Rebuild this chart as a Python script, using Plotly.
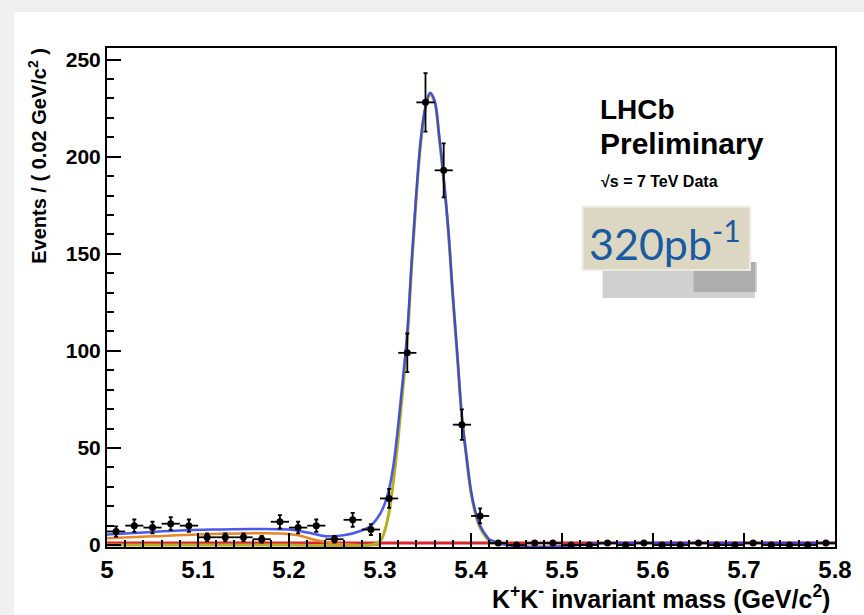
import numpy as np
import plotly.graph_objects as go

# ---- data ----
bin_centers = [5.01, 5.03, 5.05, 5.07, 5.09, 5.11, 5.13, 5.15, 5.17, 5.19,
               5.21, 5.23, 5.25, 5.27, 5.29, 5.31, 5.33, 5.35, 5.37, 5.39,
               5.41, 5.43, 5.45, 5.47, 5.49, 5.51, 5.53, 5.55, 5.57, 5.59,
               5.61, 5.63, 5.65, 5.67, 5.69, 5.71, 5.73, 5.75, 5.77, 5.79]
events = [7, 10, 9, 11, 10, 4, 4, 4, 3, 12,
          9, 10, 3, 13, 8, 24, 99, 228, 193, 62,
          15, 1, 0, 1, 1, 0, 0, 1, 0, 1,
          0, 0, 1, 0, 0, 1, 0, 0, 0, 1]

total_x = [5.00, 5.04, 5.08, 5.12, 5.16, 5.20, 5.22, 5.24, 5.26, 5.28, 5.29,
           5.300, 5.305, 5.310, 5.315, 5.320, 5.325, 5.330, 5.335, 5.340, 5.345,
           5.350, 5.355, 5.360, 5.365, 5.370, 5.375, 5.380, 5.385, 5.390, 5.395,
           5.400, 5.405, 5.410, 5.415, 5.420, 5.425, 5.430, 5.45, 5.50, 5.55, 5.60, 5.70, 5.80]
total_y = [5.5, 6.5, 7.5, 8.0, 8.3, 8.0, 6.5, 4.6, 5.0, 7.5, 10,
           16, 21, 29, 42, 62, 85, 110, 148, 182, 210,
           226, 233, 229, 211, 189, 163, 129, 98, 66, 46,
           28, 17, 10, 6, 3, 2, 1.0, -0.6, -0.6, 1.0, 1.0, 1.0, 1.0]

signal_x = [5.00, 5.10, 5.20, 5.29, 5.300, 5.305, 5.310, 5.315, 5.320, 5.325, 5.330,
            5.335, 5.340, 5.345, 5.350, 5.355, 5.360, 5.365, 5.370, 5.375,
            5.380, 5.385, 5.390, 5.395, 5.400, 5.405, 5.410, 5.415, 5.420, 5.425, 5.430]
signal_y = [0, 0, 0, 0, 2, 7, 17, 34, 55, 80, 106,
            145, 180, 208, 225, 232, 228, 210, 188, 162,
            128, 97, 66, 45, 27, 16, 9, 5, 2, 1, 0]

partreco_x = [5.00, 5.05, 5.10, 5.15, 5.19, 5.21, 5.23, 5.25, 5.27, 5.30]
partreco_y = [3.5, 4.5, 5.5, 6.0, 6.0, 5.0, 2.5, 0.8, 0.2, 0.0]

comb_x = [5.00, 5.20, 5.40, 5.60, 5.80]
comb_y = [1.0, 1.0, 1.0, 1.0, 1.0]

x_ticks = [5.0, 5.1, 5.2, 5.3, 5.4, 5.5, 5.6, 5.7, 5.8]
x_tick_text = ["5", "5.1", "5.2", "5.3", "5.4", "5.5", "5.6", "5.7", "5.8"]
y_ticks = [0, 50, 100, 150, 200, 250]
y_tick_text = ["0", "50", "100", "150", "200", "250"]

errs = np.sqrt(np.array(events, dtype=float))

fig = go.Figure()

fig.add_trace(go.Scatter(x=comb_x, y=comb_y, mode="lines",
                         line=dict(color="#e0202a", width=3), hoverinfo="skip"))
fig.add_trace(go.Scatter(x=partreco_x, y=partreco_y, mode="lines",
                         line=dict(color="#e8862a", width=2.5, shape="spline"), hoverinfo="skip"))
fig.add_trace(go.Scatter(x=signal_x, y=signal_y, mode="lines",
                         line=dict(color="#b5b020", width=3, shape="spline"), hoverinfo="skip"))
fig.add_trace(go.Scatter(x=total_x, y=total_y, mode="lines",
                         line=dict(color="rgba(45,60,230,0.85)", width=2.5, shape="spline"),
                         hoverinfo="skip"))
fig.add_trace(go.Scatter(
    x=bin_centers, y=events, mode="markers",
    marker=dict(color="black", size=7),
    error_y=dict(type="data", array=errs, color="black", thickness=1.8, width=2),
    error_x=dict(type="constant", value=0.01, color="black", thickness=1.8, width=0),
))

W, H = 864, 615
ml, mr, mt, mb = 107, 21, 48, 68
pw, ph = W - ml - mr, H - mt - mb


def px(xp):
    return (xp - ml) / pw


def py(yp):
    return (H - mb - yp) / ph


shapes = [
    # white panel on grey page
    dict(type="rect", xref="paper", yref="paper", x0=px(13), x1=px(880), y0=py(630), y1=py(12),
         fillcolor="white", line=dict(width=0), layer="below"),
    # shadow of the torn paper label
    dict(type="rect", xref="paper", yref="paper", x0=px(608), x1=px(762), y0=py(298), y1=py(262),
         fillcolor="rgba(150,150,150,0.45)", line=dict(width=0), layer="above"),
    dict(type="rect", xref="paper", yref="paper", x0=px(700), x1=px(764), y0=py(292), y1=py(262),
         fillcolor="rgba(110,110,110,0.35)", line=dict(width=0), layer="above"),
    dict(type="rect", xref="paper", yref="paper", x0=px(588), x1=px(757), y0=py(270), y1=py(207),
         fillcolor="#dcd7c2", line=dict(color="#ece9de", width=2), layer="above"),
]

ann_font = "Liberation Sans, Arial, sans-serif"
annotations = [
    dict(text="<b>LHCb</b>", x=px(603), y=py(92), xref="paper", yref="paper",
         xanchor="left", yanchor="top", showarrow=False, font=dict(size=28, family=ann_font, color="black")),
    dict(text="<b>Preliminary</b>", x=px(603), y=py(125), xref="paper", yref="paper",
         xanchor="left", yanchor="top", showarrow=False, font=dict(size=30, family=ann_font, color="black")),
    dict(text="<b>√s = 7 TeV Data</b>", x=px(604), y=py(171), xref="paper", yref="paper",
         xanchor="left", yanchor="top", showarrow=False, font=dict(size=16, family=ann_font, color="black")),
    dict(text="320pb<sup>-1</sup>", x=px(592), y=py(240), xref="paper", yref="paper",
         xanchor="left", yanchor="middle", showarrow=False,
         font=dict(size=43, family="Lato, Open Sans, sans-serif", color="#1a5aa0")),
    dict(text="<b>K<sup>+</sup>K<sup>-</sup> invariant mass (GeV/c<sup>2</sup>)</b>",
         x=px(840), y=py(597), xref="paper", yref="paper", xanchor="right", yanchor="middle",
         showarrow=False, font=dict(size=25, family=ann_font, color="black")),
    dict(text="<b>Events / ( 0.02 GeV/c<sup>2</sup> )</b>", textangle=-90,
         x=px(36), y=py(46), xref="paper", yref="paper", xanchor="center", yanchor="top",
         showarrow=False, font=dict(size=20, family=ann_font, color="black")),
]

fig.update_layout(
    width=W, height=H, autosize=False,
    margin=dict(l=ml, r=mr, t=mt, b=mb, pad=0),
    paper_bgcolor="#efefef", plot_bgcolor="white",
    showlegend=False,
    shapes=shapes, annotations=annotations,
    xaxis=dict(range=[5.0, 5.8], showgrid=False, zeroline=False,
               showline=True, linecolor="black", linewidth=2, mirror=True,
               ticks="inside", ticklen=14, tickwidth=1.5, tickcolor="black",
               tickvals=x_ticks, ticktext=x_tick_text,
               tickfont=dict(size=24, family=ann_font, color="black", weight="bold"),
               minor=dict(ticks="inside", dtick=0.02, tick0=5.0, ticklen=7, tickcolor="black", showgrid=False)),
    yaxis=dict(range=[-1, 256], showgrid=False, zeroline=False,
               showline=True, linecolor="black", linewidth=2, mirror=True,
               ticks="inside", ticklen=14, tickwidth=1.5, tickcolor="black",
               tickvals=y_ticks, ticktext=y_tick_text,
               tickfont=dict(size=21, family=ann_font, color="black", weight="bold"),
               minor=dict(ticks="inside", dtick=10, tick0=0, ticklen=7, tickcolor="black", showgrid=False)),
)

fig.write_html("out.html")
